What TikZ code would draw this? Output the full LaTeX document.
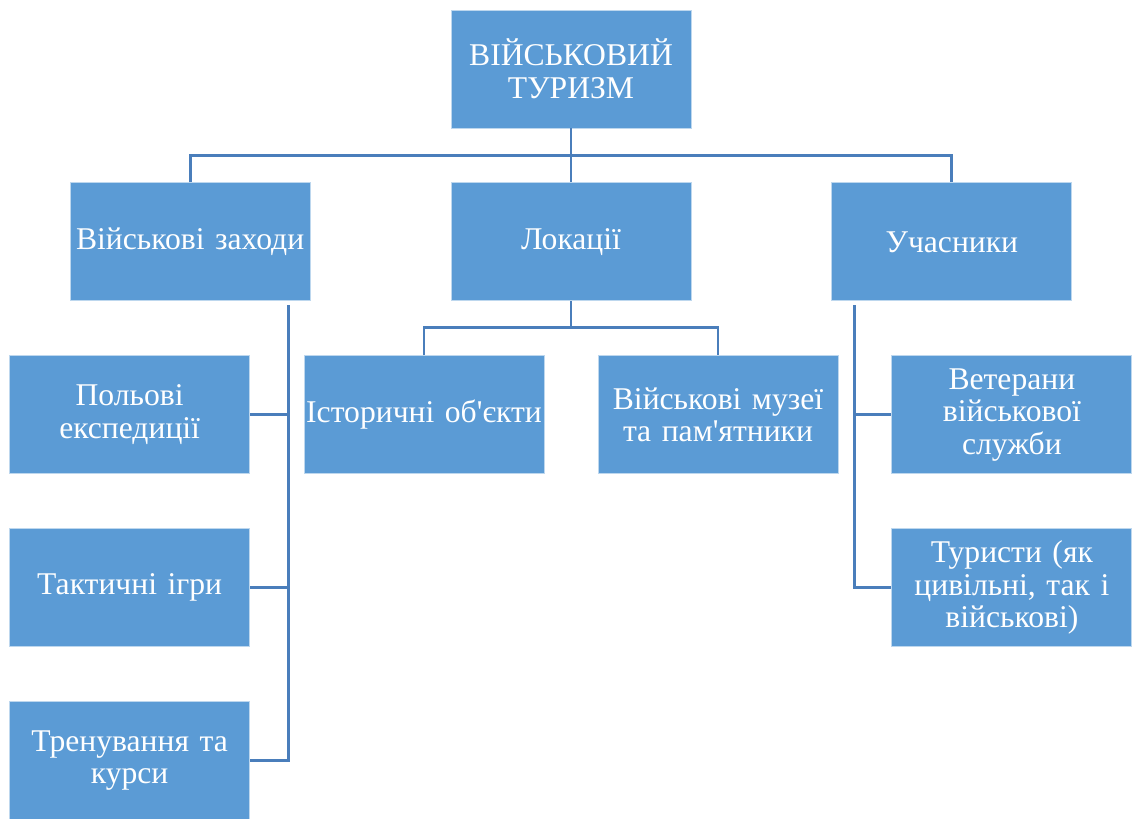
\documentclass[tikz,border=0pt]{standalone}
\usepackage{fontspec}
\setmainfont{Liberation Serif}
\usetikzlibrary{positioning,calc}
\definecolor{boxblue}{HTML}{5B9BD5}
\definecolor{lineblue}{HTML}{4A7EBB}

\begin{document}
\begin{tikzpicture}[
    card/.style={draw=white!60!boxblue, line width=0.5pt, fill=boxblue,
                 minimum width=4.8cm, minimum height=2.36cm,
                 text width=4.76cm, align=center, inner sep=0.5pt,
                 text=white, font=\fontsize{18}{18.6}\selectfont},
    conn/.style={draw=lineblue, line width=1.6pt},
    node distance=1.08cm and 2.8cm
  ]
    \useasboundingbox (0,0) rectangle (22.66,-16.36);

    % === Root ===
    \node[card] (root) at (11.42,-1.38) {ВІЙСЬКОВИЙ\\ТУРИЗМ};

    % === Level 1 ===
    \node[card, below=of root] (lok) {Локації};
    \node[card, left=of lok] (zahody) {Військові заходи};
    \node[card, right=of lok] (uchas) {Учасники};

    \coordinate (hub) at ([yshift=-0.54cm]root.south);
    \draw[conn] (root.south) -- (lok.north);
    \draw[conn] (zahody.north) |- (hub) -| (uchas.north);

    % === Military events ===
    \node[card, below=of zahody, xshift=-1.21cm] (polovi) {Польові\\експедиції};
    \node[card, below=of polovi] (taktyka) {Тактичні ігри};
    \node[card, below=of taktyka] (trenuv) {Тренування та\\курси};

    \coordinate (zbus) at ([xshift=-0.44cm, yshift=-0.08cm]zahody.south east);
    \draw[conn] (zbus) |- (polovi.east);
    \draw[conn] (zbus) |- (taktyka.east);
    \draw[conn] (zbus) |- (trenuv.east);

    % === Locations ===
    \node[card, below=of lok, xshift=-2.94cm] (istor) {Історичні об\textquotesingle єкти};
    \node[card, below=of lok, xshift=2.94cm] (muzei) {Військові музеї\\та пам\textquotesingle ятники};

    \coordinate (lhub) at ([yshift=-0.52cm]lok.south);
    \draw[conn] (lok.south) -- (lhub);
    \draw[conn] (istor.north) |- (lhub) -| (muzei.north);

    % === Participants ===
    \node[card, below=of uchas, xshift=1.2cm] (veter) {Ветерани\\військової\\служби};
    \node[card, below=of veter] (turyst) {Туристи (як\\цивільні, так і\\військові)};

    \coordinate (ubus) at ([xshift=0.46cm, yshift=-0.08cm]uchas.south west);
    \draw[conn] (ubus) |- (veter.west);
    \draw[conn] (ubus) |- (turyst.west);
\end{tikzpicture}
\end{document}
